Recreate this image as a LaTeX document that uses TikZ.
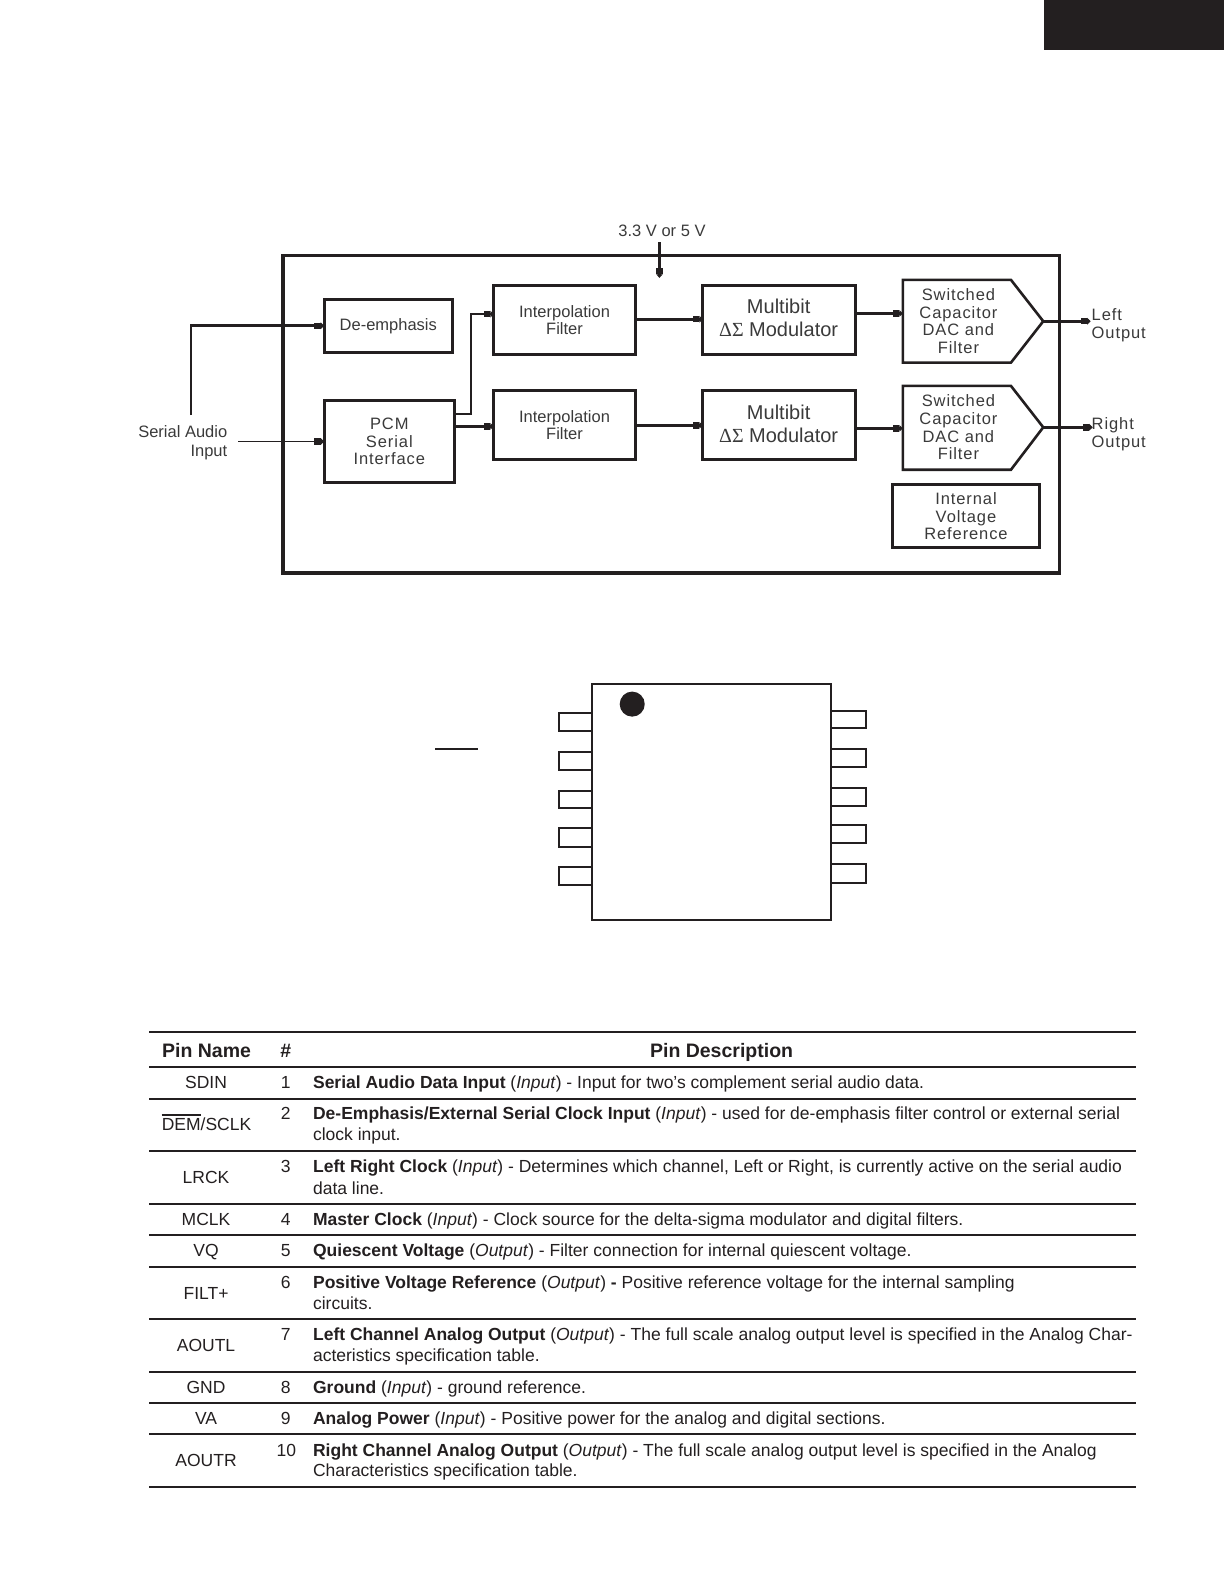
\documentclass[tikz,border=0pt]{standalone}
\usepackage{fontspec}
\setmainfont{Liberation Sans}
\newfontfamily\spaced[LetterSpace=5.5]{Liberation Sans}
\newfontfamily\symf{Liberation Serif}
\usetikzlibrary{arrows.meta}
\definecolor{ink}{HTML}{231F20}
\definecolor{soft}{HTML}{3A3A3A}
\tikzset{
  boxn/.style={draw=ink,line width=3pt,inner sep=0pt,outer sep=0pt,align=center,text=soft,font=\fontsize{16.5}{17.6}\selectfont},
  wide/.style={font=\fontsize{16.5}{17.6}\selectfont\spaced},
  big/.style={font=\fontsize{20}{22.5}\selectfont},
  headtip/.style={-{Rectangle[length=6.5pt,width=6.5pt]Triangle[length=3.5pt,width=6.5pt]}},
  conn/.style={draw=ink,line width=2.6pt,headtip},
  thinconn/.style={draw=ink,line width=1.6pt,headtip},
  lab/.style={text=soft,inner sep=0pt,outer sep=0pt,align=center,font=\fontsize{16.5}{18.5}\selectfont},
  pin/.style={draw=ink,line width=2pt,fill=white},
  rowrule/.style={draw=ink,line width=2pt},
  cell/.style={text=ink,inner sep=0pt,outer sep=0pt,anchor=base,font=\fontsize{17.5}{20}\selectfont},
  desc/.style={text=ink,inner sep=0pt,outer sep=0pt,anchor=base west,font=\fontsize{17.5}{20}\selectfont},
  head/.style={text=ink,inner sep=0pt,outer sep=0pt,anchor=base,font=\fontsize{19.5}{22}\selectfont\bfseries},
}
\newcommand\bx[7][]{\node[boxn,#1,minimum width={1.01*(#4-#2)},minimum height={1.01*(#5-#3)}] (#7) at ({(#2+#4)/2},{(#3+#5)/2}) {#6};}
\newcommand\dels{{\symf ΔΣ}}
\begin{document}
\begin{tikzpicture}[x=1.0099pt,y=-1.0102pt]
\useasboundingbox (0,0) rectangle (1212,1568);
\fill[ink] (1034,0) rectangle (1212,49.5);
% block diagram
\node[draw=ink,line width=3.6pt,inner sep=0pt,outer sep=0pt,minimum width={1.01*769},minimum height={1.01*314}] (outer) at (664.5,410) {};
\bx{321}{296}{448}{349}{De-emphasis}{de}
\bx[wide]{321}{396}{450}{478}{PCM\\Serial\\Interface}{pcm}
\bx{489}{283}{629}{351}{Interpolation\\Filter}{if1}
\bx{489}{387}{629}{455}{Interpolation\\Filter}{if2}
\bx{696}{283}{847}{351}{}{mb1}
\bx{696}{387}{847}{455}{}{mb2}
\node[lab,big] (mt1) at (771,314.5) {Multibit\\\dels{} Modulator};
\node[lab,big] (mt2) at (771,419.5) {Multibit\\\dels{} Modulator};
\bx[wide]{884}{480}{1029}{542}{Internal\\Voltage\\Reference}{ivr}
% DACs
\draw[ink,line width=2.6pt,line join=miter] (894,277) -- (1001,277) -- (1033,318) -- (1001,359) -- (894,359) -- cycle;
\draw[ink,line width=2.6pt,line join=miter] (894,382) -- (1001,382) -- (1033,423) -- (1001,465) -- (894,465) -- cycle;
\node[lab,wide] (dac1) at (949,318) {Switched\\Capacitor\\DAC and\\Filter};
\node[lab,wide] (dac2) at (949,423) {Switched\\Capacitor\\DAC and\\Filter};
\coordinate (tip1) at (1033,318);
\coordinate (tip2) at (1033,423);
\coordinate (d1w) at (894,310.3);
\coordinate (d2w) at (894,424);
% labels
\node[lab,anchor=center] (vcc) at (655.5,228) {3.3 V or 5 V};
\node[lab,align=right,anchor=east,font=\fontsize{16.5}{19}\selectfont] (sai) at (225,438.5) {Serial Audio\\Input};
\node[lab,wide,align=left,anchor=west] (lo) at (1081,322) {Left\\Output};
\node[lab,wide,align=left,anchor=west] (ro) at (1081,430) {Right\\Output};
% connectors
\coordinate (vs) at (653,240);
\coordinate (ve) at (653,275);
\draw[conn] (vs) -- (ve);
\coordinate (s1) at (189,411);
\draw[conn] (s1) |- (de.west);
\coordinate (s2) at (236,437);
\draw[thinconn] (s2) -- (pcm.west |- s2);
\draw[thinconn,line width=2pt] (pcm.east |- 0,410) -| (466,311) -- (if1.west |- 0,311);
\draw[conn] (pcm.east |- 0,422) -- (if2.west |- 0,422);
\draw[conn] (if1.east |- 0,316) -- (mb1.west |- 0,316);
\draw[conn] (if2.east |- 0,421) -- (mb2.west |- 0,421);
\draw[conn] (mb1.east |- d1w) -- (d1w);
\draw[conn] (mb2.east |- d2w) -- (d2w);
\coordinate (o1) at (1080,318);
\coordinate (o2) at (1082,423);
\draw[conn] (tip1) -- (o1);
\draw[conn] (tip2) -- (o2);
% chip
\foreach \a/\b in {706/724,744/762,783/800,820/838,858/876}{\draw[pin] (553.5,\a) rectangle (586,\b);}
\foreach \a/\b in {704/721,741/759,780/798,817/834,855/874}{\draw[pin] (823,\a) rectangle (857,\b);}
\draw[ink,line width=2pt] (586,677) rectangle (823,911);
\fill[ink] (626,697) circle[radius=12.4];
\draw[ink,line width=2pt] (431,741) -- (473,741);
% table rules
\foreach \y in {1021.7,1056.7,1087.7,1139.7,1191.7,1222.7,1253.7,1305.7,1357.7,1388.7,1419.7,1471.7}{\draw[rowrule] (148,\y) -- (1124.5,\y);}
% table text
\node[head] (hn) at (204.5,1047) {Pin Name};
\node[head] (hh) at (283,1047) {\#};
\node[head] (hd) at (714.5,1047) {Pin Description};
\node[cell] (n1) at (204,1077) {SDIN};
\node[cell] (n2) at (204.5,1119) {DEM/SCLK};
\draw[ink,line width=2.4pt] (160,1103.5) -- (199,1103.5);
\node[cell] (n3) at (204,1172) {LRCK};
\node[cell] (n4) at (204,1213) {MCLK};
\node[cell] (n5) at (204,1244) {VQ};
\node[cell] (n6) at (204,1286) {FILT+};
\node[cell] (n7) at (204,1338) {AOUTL};
\node[cell] (n8) at (204,1379) {GND};
\node[cell] (n9) at (204,1410) {VA};
\node[cell] (n10) at (204,1452) {AOUTR};
\node[cell] (k1) at (283,1077) {1};
\node[cell] (k2) at (283,1108) {2};
\node[cell] (k3) at (283,1161) {3};
\node[cell] (k4) at (283,1213) {4};
\node[cell] (k5) at (283,1244) {5};
\node[cell] (k6) at (283,1275) {6};
\node[cell] (k7) at (283,1327) {7};
\node[cell] (k8) at (283,1379) {8};
\node[cell] (k9) at (283,1410) {9};
\node[cell] (k10) at (283.5,1442) {10};
\node[desc] (d1) at (310,1077) {\textbf{Serial Audio Data Input} (\textit{Input}) - Input for two’s complement serial audio data.};
\node[desc] (d2) at (310,1108) {\textbf{De-Emphasis/External Serial Clock Input} (\textit{Input}) - used for de-emphasis filter control or external serial};
\node[desc] (d2b) at (310,1129) {clock input.};
\node[desc] (d3) at (310,1161) {\textbf{Left Right Clock} (\textit{Input}) - Determines which channel, Left or Right, is currently active on the serial audio};
\node[desc] (d3b) at (310,1182) {data line.};
\node[desc] (d4) at (310,1213) {\textbf{Master Clock} (\textit{Input}) - Clock source for the delta-sigma modulator and digital filters.};
\node[desc] (d5) at (310,1244) {\textbf{Quiescent Voltage} (\textit{Output}) - Filter connection for internal quiescent voltage.};
\node[desc] (d6) at (310,1275) {\textbf{Positive Voltage Reference} (\textit{Output}) \textbf{-} Positive reference voltage for the internal sampling};
\node[desc] (d6b) at (310,1296) {circuits.};
\node[desc] (d7) at (310,1327) {\textbf{Left Channel Analog Output} (\textit{Output}) - The full scale analog output level is specified in the Analog Char-};
\node[desc] (d7b) at (310,1348) {acteristics specification table.};
\node[desc] (d8) at (310,1379) {\textbf{Ground} (\textit{Input}) - ground reference.};
\node[desc] (d9) at (310,1410) {\textbf{Analog Power} (\textit{Input}) - Positive power for the analog and digital sections.};
\node[desc] (d10) at (310,1442) {\textbf{Right Channel Analog Output} (\textit{Output}) - The full scale analog output level is specified in the Analog};
\node[desc] (d10b) at (310,1462) {Characteristics specification table.};
\end{tikzpicture}
\end{document}
